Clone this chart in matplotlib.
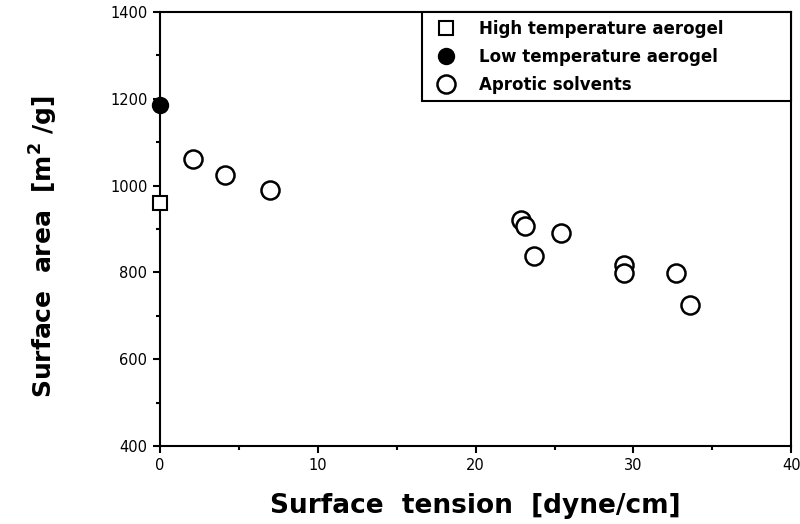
import matplotlib.pyplot as plt
from matplotlib.ticker import MultipleLocator

plt.rcParams['font.family'] = ['DejaVu Sans']

# surface tension of the drying liquid [dyne/cm] vs. surface area [m2/g]
high_x = [0.0]
high_y = [959]
low_x = [0.0]
low_y = [1186]
aprotic_x = [2.1, 4.1, 7.0, 22.9, 23.1, 25.4, 23.7, 29.4, 29.4, 32.7, 33.6]
aprotic_y = [1062, 1025, 991, 920, 906, 891, 837, 818, 799, 798, 725]

fig = plt.figure(figsize=(8, 5.24), dpi=100)
ax = fig.add_axes([0.2, 0.149, 0.789, 0.828])

ax.plot(high_x, high_y, 's', ms=10, mfc='white', mec='black', mew=1.5,
        clip_on=False, zorder=5, label='High temperature aerogel')
ax.plot(low_x, low_y, 'o', ms=11, mfc='black', mec='black', mew=1.5,
        clip_on=False, zorder=5, label='Low temperature aerogel')
ax.plot(aprotic_x, aprotic_y, 'o', ms=13, mfc='white', mec='black', mew=1.8,
        clip_on=False, zorder=4, label='Aprotic solvents')

ax.set_xlim(0, 40)
ax.set_ylim(400, 1400)
ax.xaxis.set_major_locator(MultipleLocator(10))
ax.xaxis.set_minor_locator(MultipleLocator(5))
ax.yaxis.set_major_locator(MultipleLocator(200))
ax.yaxis.set_minor_locator(MultipleLocator(100))
ax.tick_params(which='both', direction='out', top=False, right=False,
               width=1.5, labelsize=10.5)
ax.tick_params(which='major', length=5, pad=4)
ax.tick_params(which='minor', length=3)
for s in ax.spines.values():
    s.set_linewidth(1.5)

ax.set_xlabel('Surface  tension  [dyne/cm]', fontsize=19, fontweight='bold',
              labelpad=14)
ax.set_ylabel(r'Surface  area  [m$^{\mathbf{2}}$ /g]', fontsize=18,
              fontweight='bold')
ax.yaxis.set_label_coords(-0.158, 0.46)

leg = ax.legend(loc='upper left', bbox_to_anchor=(0.415, 0.0, 0.585, 1.0),
                mode='expand', borderaxespad=0, fancybox=False,
                edgecolor='black', framealpha=1, handletextpad=1.0,
                borderpad=0.45, labelspacing=0.6,
                prop={'weight': 'bold', 'size': 12})
leg.get_frame().set_linewidth(1.5)

fig.savefig('out.png', dpi=100)
